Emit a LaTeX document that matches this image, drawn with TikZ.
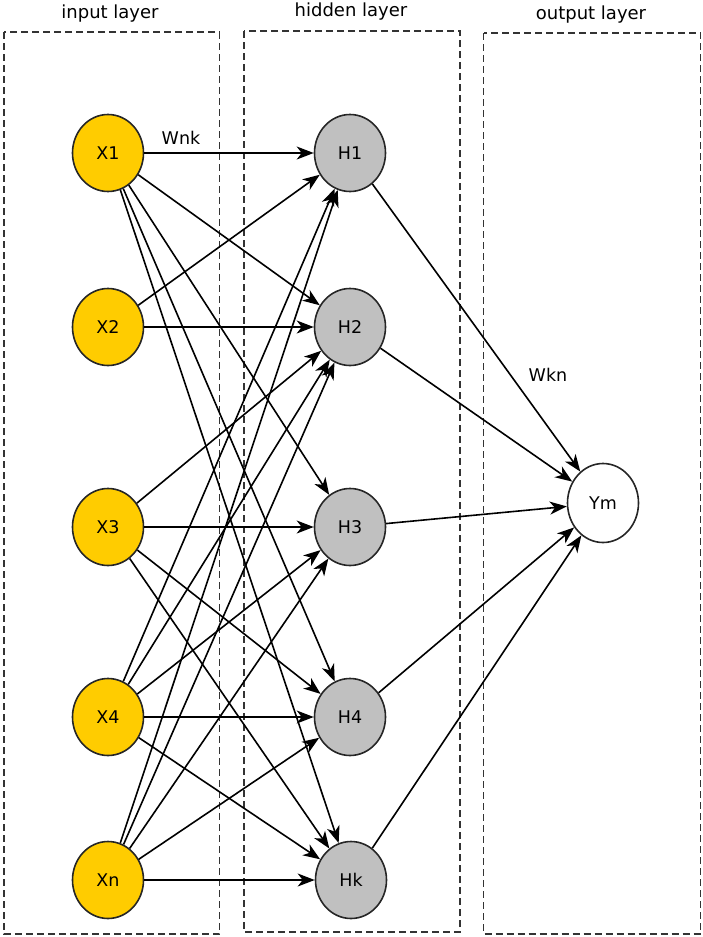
\documentclass[tikz,border=0pt]{standalone}
\usepackage{fontspec}
\setmainfont{DejaVu Sans}
\usetikzlibrary{shapes.geometric,arrows.meta}
\definecolor{inyellow}{HTML}{FFCC00}
\definecolor{hidgray}{HTML}{C0C0C0}
\definecolor{boxgray}{HTML}{333333}
\begin{document}
\begin{tikzpicture}[x=1pt,y=-1pt,
  neuron/.style={ellipse,draw=black!85,line width=1.6pt,minimum width=71pt,minimum height=77pt,inner sep=0pt,font=\fontsize{17.5}{20}\selectfont},
  inp/.style={neuron,fill=inyellow},
  hid/.style={neuron,fill=hidgray},
  outn/.style={neuron,fill=white,minimum height=79pt},
  layerbox/.style={draw=boxgray,line width=1.6pt,dash pattern=on 7pt off 4pt},
  conn/.style={-{Stealth[length=17pt,width=13pt,inset=5pt]},line width=1.6pt},
  title/.style={font=\fontsize{18}{20}\selectfont,inner sep=0pt},
  wlabel/.style={font=\fontsize{17.5}{20}\selectfont,inner sep=0pt},
]
\useasboundingbox (0,0) rectangle (703,937);
% layer boxes
\draw[layerbox] (4,32) rectangle (219.5,934);
\draw[layerbox] (244,31) rectangle (460,932);
\draw[layerbox] (483.5,33) rectangle (700.5,934);
% titles
\node[title] (tin) at (110,14) {input layer};
\node[title] (thid) at (351,12) {hidden layer};
\node[title] (tout) at (591,15) {output layer};
% connections input -> hidden
\node[inp] (X1) at (108,153) {X1};
\node[inp] (X2) at (108,327) {X2};
\node[inp] (X3) at (108,527) {X3};
\node[inp] (X4) at (108,717) {X4};
\node[inp] (Xn) at (108,880) {Xn};
\node[hid] (H1) at (350,153) {H1};
\node[hid] (H2) at (350,327) {H2};
\node[hid] (H3) at (350,527) {H3};
\node[hid] (H4) at (350,717) {H4};
\node[hid] (Hk) at (351,880) {Hk};
\node[outn] (Ym) at (603,503) {Ym};
\foreach \a/\b in {X1/H1,X1/H2,X1/H3,X1/H4,X1/Hk,
                   X2/H1,X2/H2,
                   X3/H2,X3/H3,X3/H4,X3/Hk,
                   X4/H1,X4/H2,X4/H3,X4/H4,X4/Hk,
                   Xn/H1,Xn/H2,Xn/H3,Xn/H4,Xn/Hk}
  \draw[conn] (\a) -- (\b);
% hidden -> output
\foreach \a in {H1,H2,H3,H4,Hk}
  \draw[conn] (\a) -- (Ym);
% weight labels
\node[wlabel] (wnk) at (181,138) {Wnk};
\node[wlabel] (wkn) at (548,375) {Wkn};
\end{tikzpicture}
\end{document}
